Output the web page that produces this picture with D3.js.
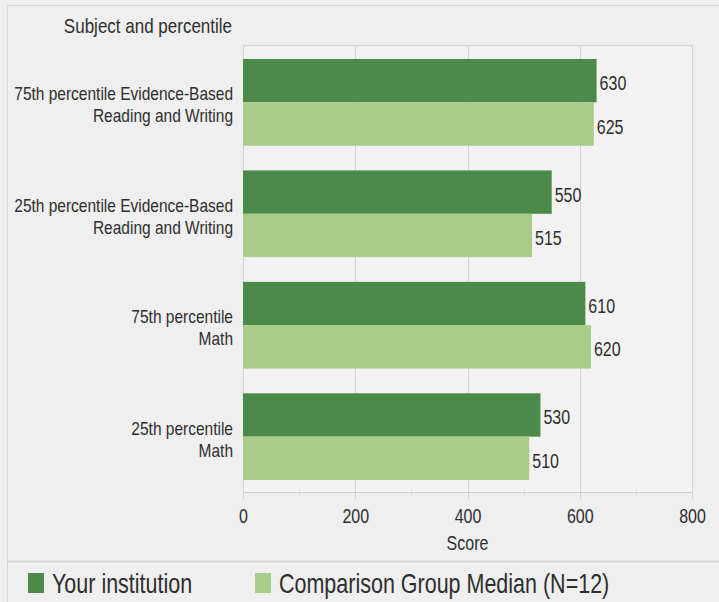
<!DOCTYPE html>
<html><head><meta charset="utf-8">
<script src="https://cdn.jsdelivr.net/npm/d3@7"></script>
<style>
html,body{margin:0;padding:0;background:#efefef;}
svg{display:block;font-family:"Liberation Sans",Arial,sans-serif;}
</style></head>
<body>
<svg id="c" width="719" height="602"></svg>
<script>
const categories = [
  ["75th percentile Evidence-Based","Reading and Writing"],
  ["25th percentile Evidence-Based","Reading and Writing"],
  ["75th percentile","Math"],
  ["25th percentile","Math"]
];
const seriesNames = ["Your institution","Comparison Group Median (N=12)"];
const yourInstitution = [630, 550, 610, 530];
const comparisonMedian = [625, 515, 620, 510];
const xTicks = [0, 200, 400, 600, 800];
const minorTicks = [100, 300, 500, 700];
const colors = ["#4b8a48", "#a9cc89"];

const svg = d3.select("#c");
const m = {left:243, right:692, top:45, bottom:492};
const SY = 1.3; // vertical stretch of the reference text

function stext(parent, x, y, str, size, anchor, sy){
  const g = parent.append("g").attr("transform",`translate(${x},${y}) scale(1,${sy||SY})`);
  g.append("text").attr("x",0).attr("y",0).attr("font-size",size)
    .attr("text-anchor",anchor||"start").attr("fill","#2e2e2e").text(str);
  return g;
}

// outer frame
svg.append("rect").attr("x",7.5).attr("y",5.5).attr("width",720).attr("height",600)
  .attr("fill","#efefef").attr("stroke","#d9d9d9");
svg.append("line").attr("x1",7).attr("x2",719).attr("y1",561.5).attr("y2",561.5)
  .attr("stroke","#d6d6d6").attr("stroke-width",2);

const x = d3.scaleLinear().domain([0,800]).range([m.left, m.right]);
const y0 = d3.scaleBand().domain(d3.range(categories.length)).range([59, 480]).paddingInner(0.222);
const y1 = d3.scaleBand().domain([0,1]).range([0, y0.bandwidth()]);

// plot background
svg.append("rect").attr("x",m.left).attr("y",m.top).attr("width",m.right-m.left).attr("height",m.bottom-m.top)
  .attr("fill","#f2f2f2");
svg.append("line").attr("x1",m.left).attr("x2",m.right).attr("y1",m.top+0.5).attr("y2",m.top+0.5).attr("stroke","#d5d5d5");
svg.append("line").attr("x1",m.right+0.5).attr("x2",m.right+0.5).attr("y1",m.top).attr("y2",m.bottom).attr("stroke","#d5d5d5");

// gridlines
svg.append("g").selectAll("line").data(xTicks).join("line")
  .attr("x1",d=>Math.round(x(d))+0.5).attr("x2",d=>Math.round(x(d))+0.5)
  .attr("y1",m.top).attr("y2",m.bottom+7)
  .attr("stroke","#d2d2d2");

// axis
const axis = d3.axisBottom(x).tickValues(xTicks).tickSize(0).tickFormat(()=> "");
const ag = svg.append("g").attr("transform",`translate(0,${m.bottom})`).call(axis);
ag.select(".domain").attr("stroke","#cfcfcf");
ag.selectAll(".tick").each(function(d){
  stext(d3.select(this), 0, 31, d, 16, "middle");
});
svg.append("g").selectAll("line").data(minorTicks).join("line")
  .attr("x1",d=>Math.round(x(d))+0.5).attr("x2",d=>Math.round(x(d))+0.5)
  .attr("y1",m.bottom-3).attr("y2",m.bottom+3).attr("stroke","#dadada");

stext(svg, (m.left+m.right)/2, 550, "Score", 16, "middle");

// bars
const data = categories.map((c,i)=>[yourInstitution[i], comparisonMedian[i]]);
const groups = svg.append("g").selectAll("g").data(data).join("g")
  .attr("transform",(d,i)=>`translate(0,${y0(i)})`);
groups.selectAll("rect").data(d=>d).join("rect")
  .attr("x",x(0)).attr("y",(d,j)=>y1(j)).attr("height",y1.bandwidth())
  .attr("width",d=>x(d)-x(0)).attr("fill",(d,j)=>colors[j]);
groups.each(function(d){
  const g = d3.select(this);
  d.forEach((v,j)=>stext(g, x(v)+3, y1(j)+y1.bandwidth()/2+9.5, v, 16, "start"));
});

// category labels
categories.forEach((lines,i)=>{
  const c = y0(i)+y0.bandwidth()/2;
  lines.forEach((ln,j)=>stext(svg, 233, c-2+j*22, ln, 15.5, "end", 1.2));
});

stext(svg, 232, 32.7, "Subject and percentile", 17, "end", 1.2);

// legend
const legX = [28, 255];
const lg = svg.append("g").selectAll("g").data(seriesNames).join("g")
  .attr("transform",(d,i)=>`translate(${legX[i]},573)`);
lg.append("rect").attr("width",16).attr("height",20).attr("fill",(d,i)=>colors[i]);
lg.each(function(d){ stext(d3.select(this), 24, 20, d, 21.5, "start"); });
</script>
</body></html>
